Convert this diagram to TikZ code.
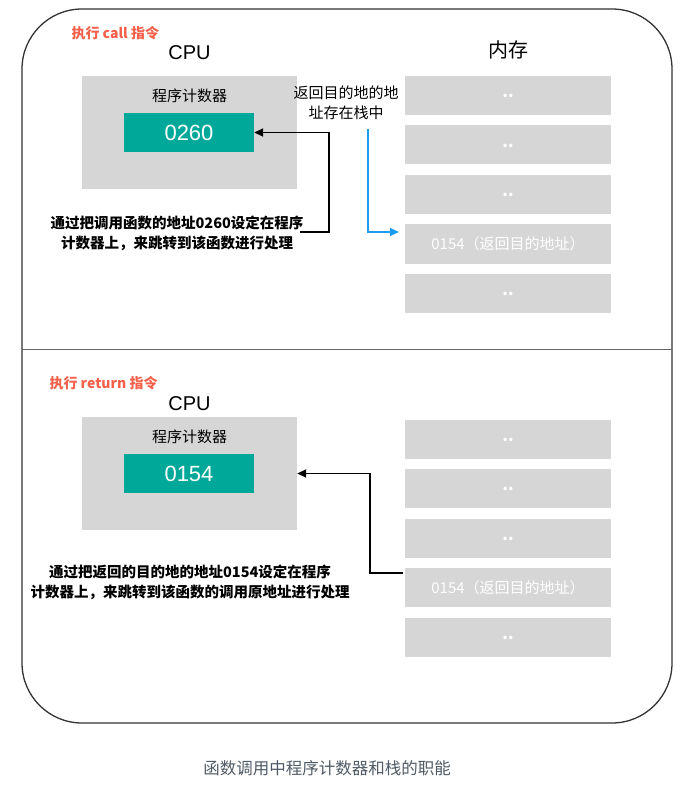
\documentclass[tikz,border=0pt]{standalone}
\usepackage{fontspec}
\setmainfont{Noto Sans CJK SC}
\newfontfamily\latinfont{Liberation Sans}
\usepackage{tikz}
\usetikzlibrary{arrows.meta}

\definecolor{boxgray}{RGB}{214,214,214}
\definecolor{regteal}{RGB}{0,168,154}
\definecolor{titlered}{RGB}{244,96,74}
\definecolor{pushblue}{RGB}{26,156,240}
\definecolor{captiongray}{RGB}{80,90,102}

\newcommand{\celldots}{\raisebox{-5pt}{\bfseries\fontsize{16}{18}\selectfont ..}}

\begin{document}
\begin{tikzpicture}[x=1pt, y=-1pt,
    cpubox/.style={fill=boxgray, minimum width=215pt, minimum height=113pt, inner sep=0pt},
    regbox/.style={fill=regteal, minimum width=130pt, minimum height=39pt, inner sep=0pt,
      text=white, font=\latinfont\fontsize{22}{26}\selectfont},
    cell/.style={fill=boxgray, minimum width=206pt, minimum height=39pt, inner sep=0pt,
      text=white, font=\fontsize{15}{18}\selectfont},
    title/.style={text=titlered, font=\bfseries\fontsize{14}{16}\selectfont},
    big/.style={font=\latinfont\fontsize{20}{24}\selectfont},
    note/.style={align=center, font=\bfseries\fontsize{14.5}{20}\selectfont},
    arr/.style={-{Triangle[length=9pt,width=8pt]}, line width=1.8pt}]
    \useasboundingbox (0,0) rectangle (691,786);

    \draw[line width=1.3pt, black!80, rounded corners=60pt] (22,9) rectangle (672,723);
    \draw[line width=1.6pt, black!60] (22,349.5) -- (672,349.5);

    % call
    \node[title, anchor=west] (callA) at (68,33) {执行 call 指令};
    \node[big] (cpuA) at (189.5,53) {CPU};
    \node[cpubox] (boxA) at (189.5,132.5) {};
    \node[font=\fontsize{15}{18}\selectfont] (pcA) at (189.5,96) {程序计数器};
    \node[regbox] (regA) at (189,132.5) {0260};
    \node[font=\fontsize{20}{24}\selectfont] (memA) at (508,50) {内存};
    \foreach \i/\y in {1/95.5,2/145,3/194.5,5/293.5}
      \node[cell] (stackA\i) at (508,\y) {\celldots};
    \node[cell] (stackA4) at (508,244) {0154（返回目的地址）};
    \node[align=center, font=\fontsize{15}{20}\selectfont] (retA) at (346,103) {返回目的地的地\\址存在栈中};
    \node[note] (descA) at (177,233) {通过把调用函数的地址0260设定在程序\\计数器上，来跳转到该函数进行处理};

    \coordinate (tA) at (300,232);
    \coordinate (bA) at (368,129);
    \coordinate (bAend) at (399,232);
    \draw[arr] (tA) -- ++(29,0) |- (regA.east);
    \draw[arr, pushblue, line width=1.5pt] (bA) |- (bAend);

    % return
    \node[title, anchor=west] (callB) at (46,383) {执行 return 指令};
    \node[big] (cpuB) at (189.5,404) {CPU};
    \node[cpubox] (boxB) at (189.5,473.5) {};
    \node[font=\fontsize{15}{18}\selectfont] (pcB) at (189.5,437) {程序计数器};
    \node[regbox] (regB) at (189,473.5) {0154};
    \foreach \i/\y in {1/439,2/488.5,3/538,5/637}
      \node[cell] (stackB\i) at (508,\y) {\celldots};
    \node[cell] (stackB4) at (508,587.5) {0154（返回目的地址）};
    \node[note] (descB) at (190,582) {通过把返回的目的地的地址0154设定在程序\\计数器上，来跳转到该函数的调用原地址进行处理};

    \coordinate (rB) at (403,573);
    \draw[arr] (rB) -- ++(-33,0) |- (boxB.east);

    \node[text=captiongray, font=\fontsize{16.5}{20}\selectfont] (cap) at (327,768) {函数调用中程序计数器和栈的职能};
\end{tikzpicture}
\end{document}
